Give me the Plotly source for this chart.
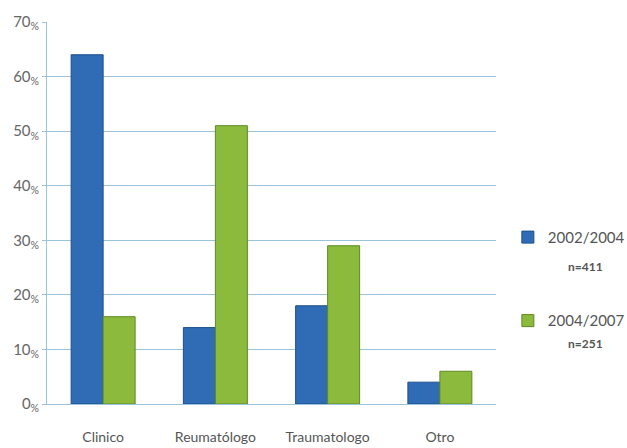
import plotly.graph_objects as go

categories = ["Clinico", "Reumatólogo", "Traumatologo", "Otro"]
series_2002 = [64, 14, 18, 4]
series_2004 = [16, 51, 29, 6]
series_names = ["2002/2004", "2004/2007"]
series_n = ["n=411", "n=251"]
y_ticks = [0, 10, 20, 30, 40, 50, 60, 70]
y_ticktext = [f"{v}<sub>%</sub>" for v in y_ticks]

fig = go.Figure()
fig.add_trace(go.Bar(x=categories, y=series_2002, name=series_names[0], legendgroup="a",
                     marker=dict(color="#2f6cb5", line=dict(color="#1d4f8c", width=1))))
fig.add_trace(go.Bar(x=categories, y=series_2004, name=series_names[1], legendgroup="b",
                     marker=dict(color="#8cba3c", line=dict(color="#5e8a22", width=1))))

fig.update_layout(
    width=627, height=448,
    margin=dict(l=47, r=131, t=22, b=44, autoexpand=False),
    paper_bgcolor="white", plot_bgcolor="white",
    barmode="group", bargap=0.43, bargroupgap=0,
    font=dict(family="Lato, Open Sans, sans-serif", color="#555555", size=13),
    showlegend=True,
    legend=dict(xref="container", yref="container", x=0.81, y=0.507,
                xanchor="left", yanchor="top", tracegroupgap=61,
                font=dict(size=15, color="#555555"), itemwidth=30,
                bgcolor="rgba(0,0,0,0)"),
)
fig.update_yaxes(range=[0, 70], tickvals=y_ticks, ticktext=y_ticktext,
                 showgrid=True, gridcolor="#9cc3de", gridwidth=1,
                 showline=True, linecolor="#9cc3de", ticks="outside", ticklen=4,
                 tickcolor="#9cc3de", tickfont=dict(size=15, color="#666666"))
fig.update_xaxes(showline=True, linecolor="#9cc3de", ticks="", tickfont=dict(size=14, color="#555555"),
                 ticklabelstandoff=20)

for i, t in enumerate(series_n):
    fig.add_annotation(xref="paper", yref="paper", x=1.20, y=[0.361, 0.134][i],
                       text=f"<b>{t}</b>", showarrow=False, font=dict(size=12, color="#555555"),
                       xanchor="center")

fig.write_html("out.html")
